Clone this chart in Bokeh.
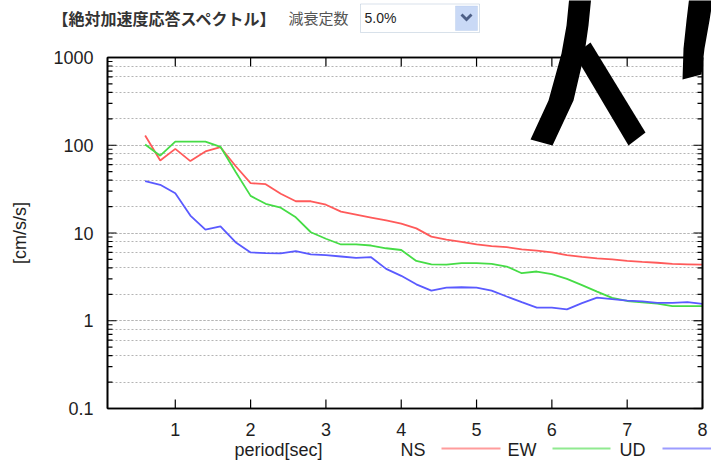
import math
from bokeh.plotting import figure
from bokeh.models import (FixedTicker, LogTicker, Label, BoxAnnotation, PolyAnnotation, Arrow,
                          CustomJSTickFormatter, Range1d, Grid)
from bokeh.embed import file_html
from bokeh.resources import INLINE

# ---------------- data ----------------
periods = [0.6, 0.8, 1.0, 1.2, 1.4, 1.6, 1.8, 2.0, 2.2, 2.4, 2.6, 2.8, 3.0, 3.2, 3.4, 3.6,
           3.8, 4.0, 4.2, 4.4, 4.6, 4.8, 5.0, 5.2, 5.4, 5.6, 5.8, 6.0, 6.2, 6.4, 6.6, 6.8,
           7.0, 7.2, 7.4, 7.6, 7.8, 8.0]
ns = [129, 67, 91, 66, 85, 95, 58, 37, 36, 28, 23, 23, 21, 17.5, 16.2, 15, 13.9, 12.8,
      11.3, 9.1, 8.4, 7.9, 7.4, 7.1, 6.9, 6.5, 6.3, 6.0, 5.6, 5.35, 5.15, 5.0, 4.8, 4.68,
      4.58, 4.45, 4.4, 4.35]
ew = [102, 76, 110, 110, 110, 96, 50, 26.5, 21.5, 19.4, 15.1, 10.2, 8.6, 7.4, 7.4, 7.2,
      6.7, 6.4, 4.8, 4.38, 4.35, 4.53, 4.53, 4.45, 4.15, 3.48, 3.64, 3.4, 3.0, 2.55, 2.15,
      1.82, 1.68, 1.62, 1.57, 1.47, 1.47, 1.47]
ud = [39, 35.4, 28.4, 15.8, 10.9, 11.9, 7.85, 6.0, 5.9, 5.85, 6.2, 5.7, 5.6, 5.4, 5.2, 5.3,
      3.9, 3.25, 2.6, 2.2, 2.38, 2.41, 2.38, 2.2, 1.89, 1.63, 1.41, 1.41, 1.35, 1.59, 1.83,
      1.76, 1.7, 1.66, 1.6, 1.6, 1.63, 1.56]
series_names = ["NS", "EW", "UD"]
series_colors = ["#ff5a5a", "#46dc46", "#5a5aff"]
x_ticks = [1, 2, 3, 4, 5, 6, 7, 8]
y_major_ticks = [0.1, 1, 10, 100, 1000]
title_text = "【絶対加速度応答スペクトル】"
damping_label = "減衰定数"
damping_value = "5.0%"
x_label = "period[sec]"
y_label = "[cm/s/s]"

# ---------------- layout (canvas pixels) ----------------
W, H = 711, 461
BL, BR, BT, BB = 107, 702, 57, 408      # plot box edges
X0, X1 = 0.1, 8.0
Y0, Y1 = 0.1, 1000.0
xs_per_px = (X1 - X0) / (BR - BL)
dec_per_px = (math.log10(Y1) - math.log10(Y0)) / (BB - BT)
x_start = X0 - BL * xs_per_px
x_end = X1 + (W - BR) * xs_per_px
y_end = 10 ** (math.log10(Y1) + BT * dec_per_px)
y_start = 10 ** (math.log10(Y0) - (H - BB) * dec_per_px)


def dx(px):
    return X0 + (px - BL) * xs_per_px


def dy(py):
    return 10 ** (math.log10(Y1) - (py - BT) * dec_per_px)


def poly(pts, color, level="overlay"):
    return PolyAnnotation(xs=[dx(a) for a, b in pts], ys=[dy(b) for a, b in pts],
                          fill_color=color, fill_alpha=1, line_color=None, level=level)


def seg(x_a, y_a, x_b, y_b, width):
    # a plain line (arrow annotation without heads), in data coordinates
    return Arrow(end=None, x_start=x_a, y_start=y_a, x_end=x_b, y_end=y_b,
                 line_color="black", line_width=width, level="overlay")


p = figure(width=W, height=H, output_backend="svg", toolbar_location=None,
           x_range=Range1d(x_start, x_end), y_range=Range1d(y_start, y_end),
           y_axis_type="log", min_border=0)
p.min_border_left = p.min_border_right = p.min_border_top = p.min_border_bottom = 0
p.title.visible = False
p.background_fill_color = "white"
p.border_fill_color = "white"
p.outline_line_color = None

FONT = "Liberation Sans"
AX = "#1e1e1e"
num_fmt = CustomJSTickFormatter(code="return Number(tick.toPrecision(6)).toString();")

# bottom axis (labels only; the box and its ticks are drawn below)
xa = p.xaxis[0]
xa.ticker = FixedTicker(ticks=x_ticks, minor_ticks=[])
xa.fixed_location = Y0
xa.bounds = (X0, X1)
xa.axis_line_color = None
xa.major_tick_line_color = None
xa.minor_tick_line_color = None
xa.major_tick_out = 0
xa.major_label_standoff = 14
xa.major_label_text_font = FONT
xa.major_label_text_font_size = "18px"
xa.major_label_text_color = AX

# left axis
ya = p.yaxis[0]
ya.ticker = LogTicker()
ya.formatter = num_fmt
ya.fixed_location = X0
ya.bounds = (Y0, Y1)
ya.axis_line_color = None
ya.major_tick_line_color = None
ya.minor_tick_line_color = None
ya.major_tick_out = 0
ya.minor_tick_out = 0
ya.major_label_standoff = 14
ya.major_label_text_font = FONT
ya.major_label_text_font_size = "18px"
ya.major_label_text_color = AX
ya.axis_label = y_label
ya.axis_label_text_font = FONT
ya.axis_label_text_font_size = "18px"
ya.axis_label_text_font_style = "normal"
ya.axis_label_text_color = AX
ya.axis_label_standoff = 20

# grid: dotted horizontal lines only, inside the box
p.xgrid.grid_line_color = None
yg = p.ygrid[0]
yg.grid_line_color = "#b4b4b4"
yg.grid_line_dash = "2 2"
yg.minor_grid_line_color = "#b4b4b4"
yg.minor_grid_line_dash = "2 2"
if "cross_bounds" in Grid.properties():
    yg.cross_bounds = (X0, X1)

# data lines
for vals, col in zip([ns, ew, ud], series_colors):
    p.line(periods, vals, line_color=col, line_width=1.8)

# plot box: drawn as a closed line glyph and as head-less arrow annotations
p.line([X0, X1, X1, X0, X0], [Y0, Y0, Y1, Y1, Y0], line_color="black", line_width=1.6)
for xa_, ya_, xb_, yb_ in [(X0, Y0, X1, Y0), (X1, Y0, X1, Y1), (X1, Y1, X0, Y1),
                           (X0, Y1, X0, Y0)]:
    p.add_layout(seg(xa_, ya_, xb_, yb_, 1.6))

# inward ticks on all four sides (gnuplot style)
y_minor_ticks = [k * 10 ** n for n in range(-1, 3) for k in range(2, 10)]
for t in x_ticks:
    p.add_layout(seg(t, Y0, t, dy(BB - 9), 1.2))
    p.add_layout(seg(t, Y1, t, dy(BT + 9), 1.2))
for xe, sgn in [(BL, 1), (BR, -1)]:
    for ticks, ln in [(y_major_ticks, 9), (y_minor_ticks, 5)]:
        for t in ticks:
            p.add_layout(seg(dx(xe), t, dx(xe + sgn * ln), t, 1.2))

# x label and legend (label first, then line sample)
p.add_layout(Label(x=dx(278), y=dy(449), text=x_label, text_font=FONT,
                   text_font_size="18px", text_color=AX, text_align="center",
                   text_baseline="middle"))
leg_text_x = [400, 507, 619]
leg_line_x = [(441, 500), (552, 610), (662, 711)]
for name, col, tx, (l0, l1) in zip(series_names, series_colors, leg_text_x, leg_line_x):
    p.add_layout(Label(x=dx(tx), y=dy(449), text=name, text_font=FONT,
                       text_font_size="18px", text_color=AX, text_align="left",
                       text_baseline="middle"))
    p.add_layout(Arrow(end=None, x_start=dx(l0), y_start=dy(448), x_end=dx(l1),
                       y_end=dy(448), line_color=col, line_width=2, line_alpha=0.6))

# header
p.add_layout(Label(x=dx(52), y=dy(17), text=title_text, text_font="Noto Sans CJK JP",
                   text_font_style="bold", text_font_size="16px", text_color="#333333",
                   text_baseline="middle"))
p.add_layout(Label(x=dx(288), y=dy(17), text=damping_label, text_font="Noto Sans CJK JP",
                   text_font_size="15px", text_color="#555555", text_baseline="middle"))
p.add_layout(BoxAnnotation(left=dx(360), right=dx(479), top=dy(3.5), bottom=dy(32),
                           fill_color="white", fill_alpha=1, line_color="#7f9db9",
                           line_width=1, level="overlay"))
p.add_layout(BoxAnnotation(left=dx(455), right=dx(477), top=dy(5.5), bottom=dy(30),
                           fill_color="#c9d9f6", fill_alpha=1, line_color="#a9bfe9",
                           line_width=1, level="overlay"))
chev = [(460, 15), (462, 13), (466, 17), (470, 13), (472, 15), (466, 21)]
p.add_layout(poly(chev, "#4d5f86"))
p.add_layout(Label(x=dx(364), y=dy(17), text=damping_value, text_font=FONT,
                   text_font_size="14px", text_color=AX, text_baseline="middle",
                   level="overlay"))

# black hand-drawn strokes over the top right
strokes = [
    [(569, -5), (591, -5), (588, 25), (584, 53), (573, 100), (552, 145), (530, 139),
     (548, 100), (561, 53), (566, 25)],
    [(574, 54), (590, 42), (645, 132), (628, 145)],
    [(689, -5), (713, -5), (709, 20), (704, 48), (701, 74), (682, 79), (683, 48), (686, 20)],
]
for s in strokes:
    p.add_layout(poly(s, "black"))

open("out.html", "w").write(file_html(p, INLINE))
